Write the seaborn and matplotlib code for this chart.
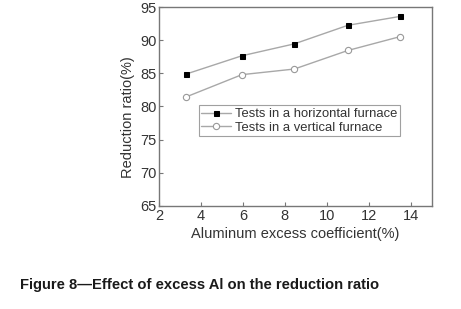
import matplotlib
matplotlib.use("Agg")
import matplotlib.pyplot as plt
import seaborn as sns
import pandas as pd
from matplotlib.ticker import MultipleLocator

al_excess = [3.3, 5.95, 8.45, 11.0, 13.5]
horizontal = [84.9, 87.65, 89.45, 92.25, 93.6]
vertical = [81.45, 84.8, 85.65, 88.45, 90.55]
labels = ["Tests in a horizontal furnace", "Tests in a vertical furnace"]

sns.set_style("white")
plt.rcParams["font.family"] = ["Liberation Sans", "DejaVu Sans"]

df = pd.DataFrame({"x": al_excess * 2,
                   "y": horizontal + vertical,
                   "series": [labels[0]] * 5 + [labels[1]] * 5})

fig = plt.figure(figsize=(4.61, 3.09), dpi=100)
ax = fig.add_axes([0.345, 0.334, 0.5915, 0.643])

line_col = "#a8a8a8"
sns.lineplot(data=df[df.series == labels[0]], x="x", y="y", ax=ax,
             color=line_col, lw=1, marker="s", markersize=3.6,
             markerfacecolor="black", markeredgecolor="black", label=labels[0])
sns.lineplot(data=df[df.series == labels[1]], x="x", y="y", ax=ax,
             color=line_col, lw=1, marker="o", markersize=4.5,
             markerfacecolor="white", markeredgecolor="#999999",
             markeredgewidth=0.8, label=labels[1])

ax.set_xlim(2, 15)
ax.set_ylim(65, 95)
ax.xaxis.set_major_locator(MultipleLocator(2))
ax.xaxis.set_minor_locator(MultipleLocator(1))
ax.yaxis.set_major_locator(MultipleLocator(5))
ax.tick_params(which="both", direction="in", color="#777777", labelsize=10.5,
               labelcolor="#333333", pad=2)
ax.tick_params(which="major", length=3)
ax.tick_params(which="minor", length=2)
ax.tick_params(axis="y", left=True)
ax.tick_params(axis="x", bottom=True)
for s in ax.spines.values():
    s.set_color("#777777")
    s.set_linewidth(1)

ax.set_xlabel("Aluminum excess coefficient(%)", fontsize=10.5, color="#333333", labelpad=3)
ax.set_ylabel("Reduction ratio(%)", fontsize=10.5, color="#333333")
ax.yaxis.set_label_coords(-0.09, 0.446)

leg = ax.legend(loc="upper left", bbox_to_anchor=(0.145, 0.505), fontsize=9.4,
                frameon=True, fancybox=False, edgecolor="#888888",
                handlelength=2.3, handletextpad=0.3, borderpad=0.2,
                labelspacing=0.1, borderaxespad=0)
for t in leg.get_texts():
    t.set_color("#333333")
leg.get_frame().set_linewidth(0.8)

fig.text(0.043, 0.065, "Figure 8\u2014Effect of excess Al on the reduction ratio",
         fontsize=10.6, fontweight="bold", color="#1a1a1a")

fig.savefig("out.png", dpi=100)
